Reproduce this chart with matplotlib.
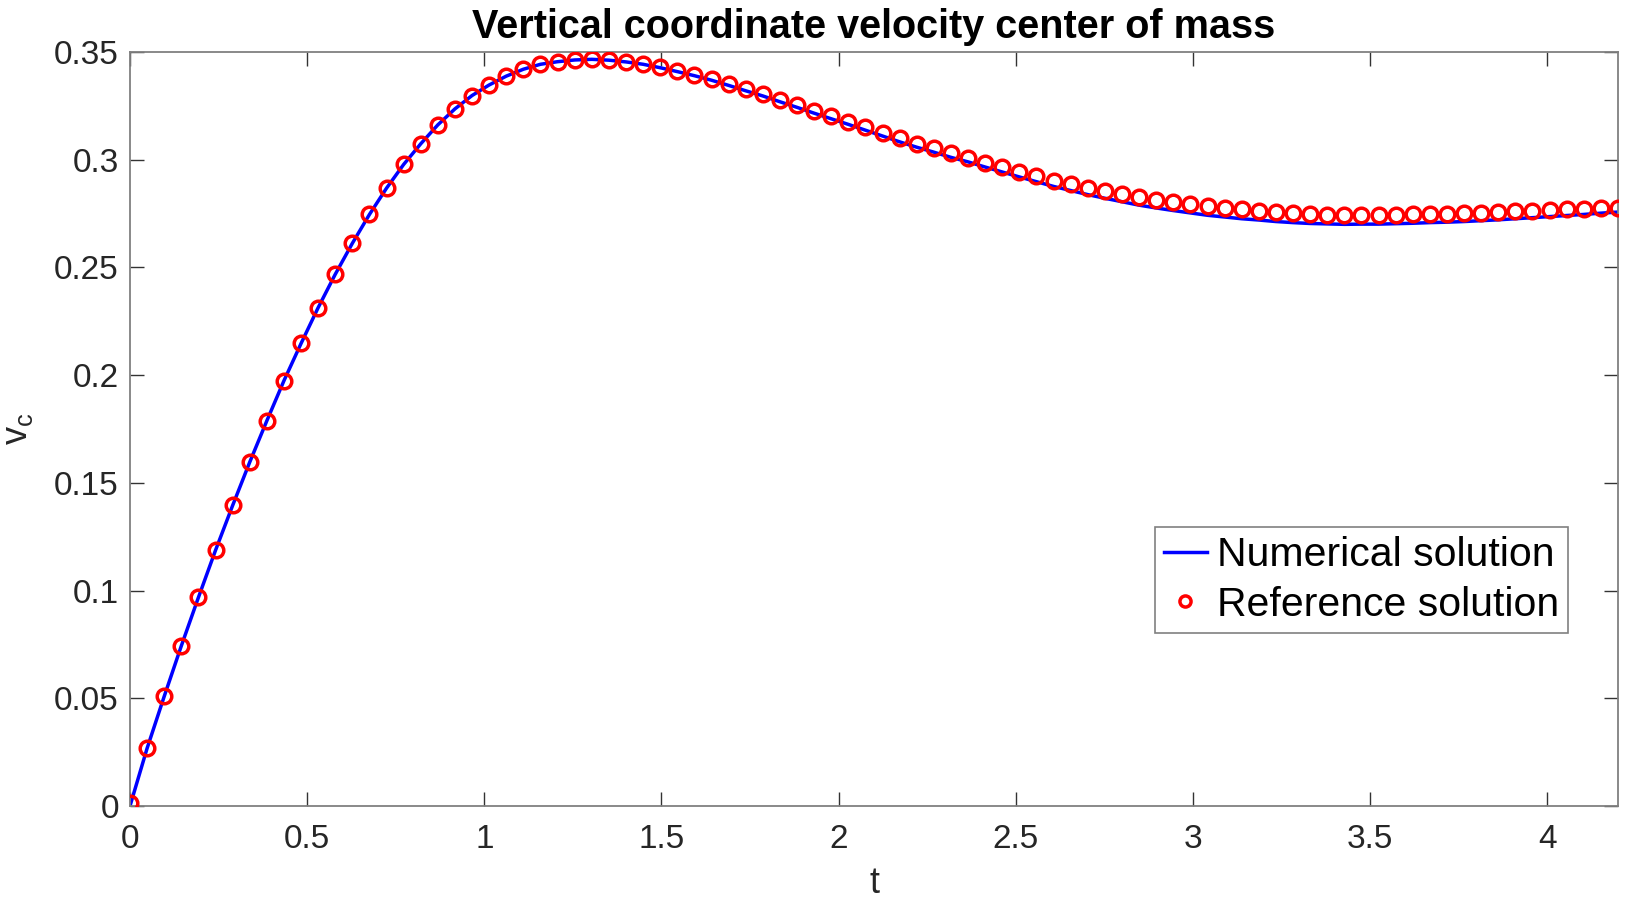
import matplotlib
matplotlib.use('Agg')
import matplotlib.pyplot as plt

plt.rcParams['font.family'] = ['Liberation Sans', 'DejaVu Sans']
plt.rcParams['mathtext.fontset'] = 'custom'
plt.rcParams['mathtext.rm'] = 'Liberation Sans'

# time grid (same for both curves)
t = [0.0000, 0.0483, 0.0966, 0.1448, 0.1931, 0.2414, 0.2897, 0.3379, 0.3862, 0.4345,
     0.4828, 0.5310, 0.5793, 0.6276, 0.6759, 0.7241, 0.7724, 0.8207, 0.8690, 0.9172,
     0.9655, 1.0138, 1.0621, 1.1103, 1.1586, 1.2069, 1.2552, 1.3034, 1.3517, 1.4000,
     1.4483, 1.4966, 1.5448, 1.5931, 1.6414, 1.6897, 1.7379, 1.7862, 1.8345, 1.8828,
     1.9310, 1.9793, 2.0276, 2.0759, 2.1241, 2.1724, 2.2207, 2.2690, 2.3172, 2.3655,
     2.4138, 2.4621, 2.5103, 2.5586, 2.6069, 2.6552, 2.7034, 2.7517, 2.8000, 2.8483,
     2.8966, 2.9448, 2.9931, 3.0414, 3.0897, 3.1379, 3.1862, 3.2345, 3.2828, 3.3310,
     3.3793, 3.4276, 3.4759, 3.5241, 3.5724, 3.6207, 3.6690, 3.7172, 3.7655, 3.8138,
     3.8621, 3.9103, 3.9586, 4.0069, 4.0552, 4.1034, 4.1517, 4.2000]

# reference solution (red circles)
v_ref = [0.0015, 0.0268, 0.0509, 0.0743, 0.0968, 0.1187, 0.1395, 0.1596, 0.1788, 0.1974,
         0.2147, 0.2313, 0.2468, 0.2612, 0.2746, 0.2868, 0.2978, 0.3074, 0.3162, 0.3236,
         0.3298, 0.3347, 0.3388, 0.3420, 0.3443, 0.3455, 0.3463, 0.3466, 0.3462, 0.3454,
         0.3443, 0.3429, 0.3412, 0.3394, 0.3374, 0.3351, 0.3327, 0.3304, 0.3278, 0.3253,
         0.3227, 0.3202, 0.3177, 0.3151, 0.3125, 0.3099, 0.3075, 0.3053, 0.3030, 0.3010,
         0.2987, 0.2965, 0.2943, 0.2923, 0.2903, 0.2886, 0.2869, 0.2854, 0.2840, 0.2826,
         0.2815, 0.2804, 0.2794, 0.2784, 0.2776, 0.2769, 0.2763, 0.2757, 0.2752, 0.2748,
         0.2745, 0.2743, 0.2743, 0.2743, 0.2745, 0.2746, 0.2748, 0.2749, 0.2751, 0.2754,
         0.2757, 0.2760, 0.2763, 0.2766, 0.2769, 0.2771, 0.2774, 0.2777]

# numerical solution (blue line)
v_num = [0.0000, 0.0268, 0.0509, 0.0743, 0.0968, 0.1187, 0.1395, 0.1596, 0.1788, 0.1974,
         0.2147, 0.2313, 0.2468, 0.2612, 0.2746, 0.2868, 0.2978, 0.3074, 0.3162, 0.3236,
         0.3298, 0.3347, 0.3388, 0.3420, 0.3443, 0.3455, 0.3463, 0.3466, 0.3462, 0.3454,
         0.3443, 0.3427, 0.3409, 0.3390, 0.3369, 0.3345, 0.3320, 0.3296, 0.3269, 0.3243,
         0.3216, 0.3190, 0.3164, 0.3137, 0.3110, 0.3083, 0.3058, 0.3035, 0.3011, 0.2990,
         0.2966, 0.2943, 0.2920, 0.2898, 0.2876, 0.2857, 0.2838, 0.2821, 0.2805, 0.2789,
         0.2776, 0.2764, 0.2753, 0.2742, 0.2734, 0.2726, 0.2720, 0.2713, 0.2708, 0.2704,
         0.2702, 0.2700, 0.2701, 0.2701, 0.2703, 0.2705, 0.2708, 0.2710, 0.2713, 0.2717,
         0.2721, 0.2726, 0.2731, 0.2736, 0.2741, 0.2746, 0.2752, 0.2757]

x_ticks = [0, 0.5, 1, 1.5, 2, 2.5, 3, 3.5, 4]
x_labels = ['0', '0.5', '1', '1.5', '2', '2.5', '3', '3.5', '4']
y_ticks = [0, 0.05, 0.1, 0.15, 0.2, 0.25, 0.3, 0.35]
y_labels = ['0', '0.05', '0.1', '0.15', '0.2', '0.25', '0.3', '0.35']

fig = plt.figure(figsize=(16.35, 9.02), dpi=100)
ax = fig.add_axes([130 / 1635, 1 - 806 / 902, 1488 / 1635, 754 / 902])

ax.plot(t, v_num, color='#0000ff', lw=2.5, label='Numerical solution', zorder=2)
ax.plot(t, v_ref, linestyle='none', marker='o', markersize=10.5, markerfacecolor='none',
        markeredgecolor='#ff0000', markeredgewidth=2.5, label='Reference solution', zorder=3)

ax.set_xlim(0, 4.2)
ax.set_ylim(0, 0.35)
ax.set_xticks(x_ticks)
ax.set_xticklabels(x_labels)
ax.set_yticks(y_ticks)
ax.set_yticklabels(y_labels)

for s in ax.spines.values():
    s.set_color('#808080')
    s.set_linewidth(1.3)
ax.tick_params(direction='in', length=10, width=1, color='#333333',
               labelsize=24, labelcolor='#262626', top=True, right=True)
ax.tick_params(axis='x', pad=13)
ax.tick_params(axis='y', pad=8)

ax.set_title('Vertical coordinate velocity center of mass', fontsize=28.5,
             fontweight='bold', pad=10)
ax.set_xlabel('t', fontsize=26, color='#262626', labelpad=8)
ax.set_ylabel(r'v$_\mathregular{c}$', fontsize=26, color='#262626', labelpad=14)

leg = ax.legend(loc='upper right', bbox_to_anchor=(0.9664, 0.3696), borderaxespad=0,
                fontsize=29.5, fancybox=False, framealpha=1, edgecolor='#808080',
                handlelength=1.05, handletextpad=0.25, borderpad=0.22, labelspacing=0.28)
leg.get_frame().set_linewidth(1.2)
leg.legend_handles[1].set_markersize(8)

fig.savefig('out.png', dpi=100)
